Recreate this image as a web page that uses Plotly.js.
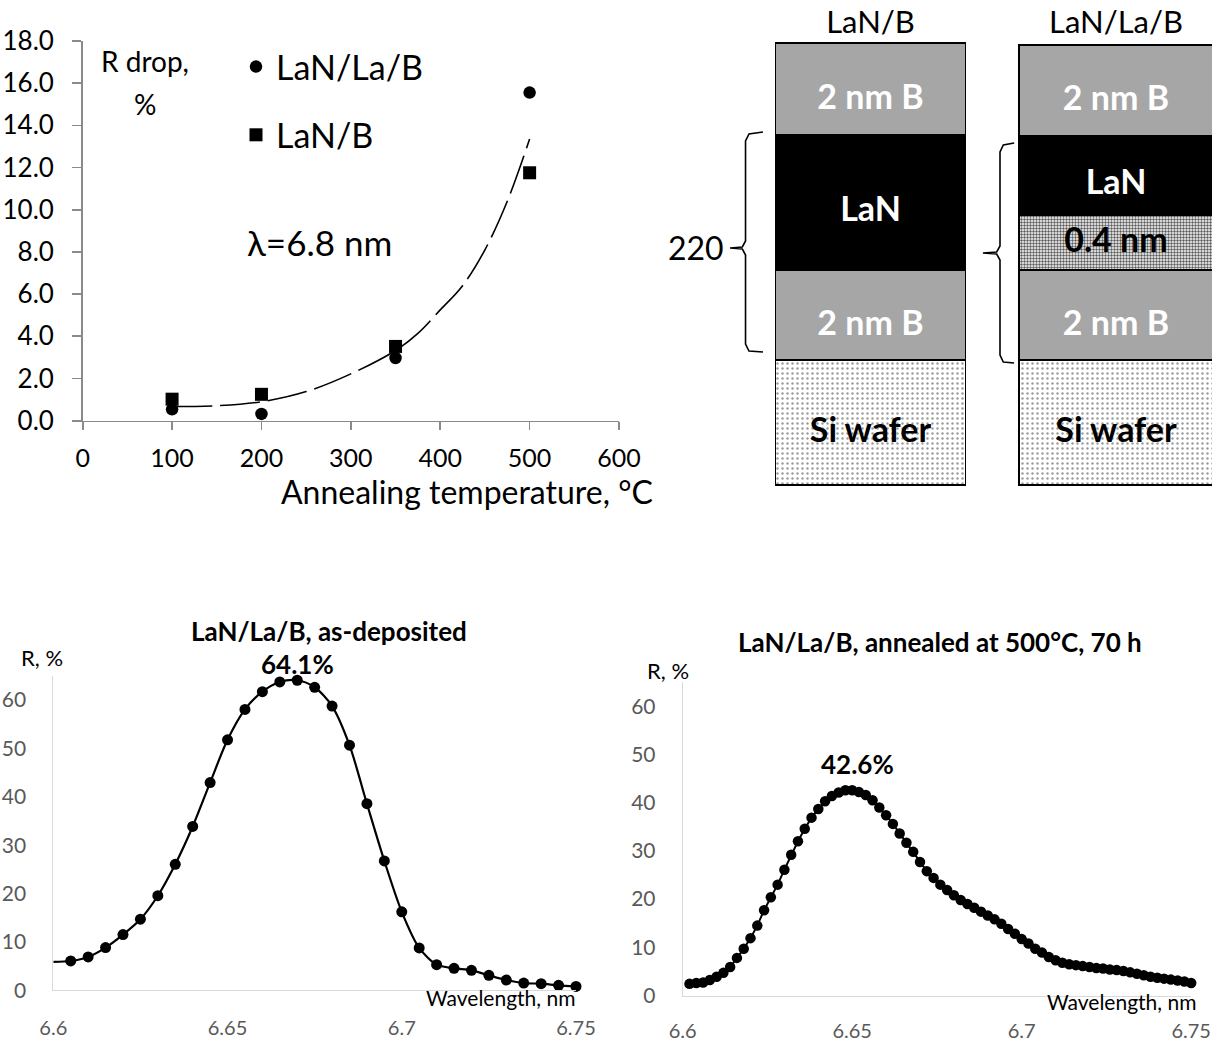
<!DOCTYPE html>
<html><head><meta charset="utf-8">
<script src="https://cdn.plot.ly/plotly-3.0.1.min.js"></script>
<style>html,body{margin:0;padding:0;background:#fff}#chart{width:1212px;height:1043px}</style>
</head><body><div id="chart"></div>
<script>
// ---------- Top-left: R drop vs annealing temperature ----------
const annealTemp = [100, 200, 350, 500];
const dropLaNLaB = [0.54, 0.32, 2.97, 15.55];
const dropLaNB   = [1.02, 1.25, 3.52, 11.75];
const trendTemp  = [100, 150, 200, 250, 300, 350, 375, 400, 425, 450, 475, 500];
const trendDrop  = [0.67, 0.71, 0.90, 1.38, 2.22, 3.33, 4.14, 5.25, 6.40, 8.10, 10.40, 13.35];

// ---------- Top-right: layer stacks (display heights) ----------
const stackNames   = ['LaN/B', 'LaN/La/B'];
const layerSi      = [125, 125];
const layerBbottom = [90, 90];
const layerLa      = [null, 55];
const layerLaN     = [135, 79];
const layerBtop    = [92, 91];
const labelSi  = ['Si wafer', 'Si wafer'];
const labelB   = ['2 nm B', '2 nm B'];
const labelLa  = ['', '0.4 nm'];
const labelLaN = ['LaN', 'LaN'];
const periodLabel = '220';
const bracketLeftX  = [-0.438, -0.495, -0.509, -0.509, -0.522, -0.572, -0.522, -0.509, -0.509, -0.495, -0.438];
const bracketLeftY  = [353, 351, 344, 244, 238, 237, 236, 230, 141, 134, 133];
const bracketRightX = [0.585, 0.541, 0.5275, 0.5275, 0.514, 0.458, 0.514, 0.5275, 0.5275, 0.541, 0.585];
const bracketRightY = [342, 340, 333, 239, 233, 232, 231, 225, 130, 123, 122];

// ---------- Bottom-left: as-deposited spectrum ----------
const asDepLeadWl = [6.600];
const asDepLeadR  = [5.9];
const asDepWl = [6.605, 6.610, 6.615, 6.620, 6.625, 6.630, 6.635, 6.640, 6.645, 6.650,
                 6.655, 6.660, 6.665, 6.670, 6.675, 6.680, 6.685, 6.690, 6.695, 6.700,
                 6.705, 6.710, 6.715, 6.720, 6.725, 6.730, 6.735, 6.740, 6.745, 6.750];
const asDepR  = [6.08, 6.91, 8.85, 11.54, 14.72, 19.56, 26.06, 33.87, 42.93, 51.77,
                 58.06, 61.73, 63.73, 64.08, 62.63, 58.75, 50.67, 38.57, 26.75, 16.24,
                 8.78, 5.32, 4.56, 4.15, 3.11, 2.14, 1.52, 1.38, 1.04, 0.83];

// ---------- Bottom-right: annealed spectrum ----------
const annWl = [6.602, 6.604, 6.606, 6.608, 6.610, 6.612, 6.614, 6.616, 6.618, 6.620,
               6.622, 6.624, 6.626, 6.628, 6.630, 6.632, 6.634, 6.636, 6.638, 6.640,
               6.642, 6.644, 6.646, 6.648, 6.650, 6.652, 6.654, 6.656, 6.658, 6.660,
               6.662, 6.664, 6.666, 6.668, 6.670, 6.672, 6.674, 6.676, 6.678, 6.680,
               6.682, 6.684, 6.686, 6.688, 6.690, 6.692, 6.694, 6.696, 6.698, 6.700,
               6.702, 6.704, 6.706, 6.708, 6.710, 6.712, 6.714, 6.716, 6.718, 6.720,
               6.722, 6.724, 6.726, 6.728, 6.730, 6.732, 6.734, 6.736, 6.738, 6.740,
               6.742, 6.744, 6.746, 6.748, 6.750];
const annR  = [2.42, 2.6, 2.7, 3.2, 3.9, 4.7, 5.9, 7.8, 9.7, 11.9,
               14.5, 17.7, 20.4, 23.0, 26.1, 29.2, 32.0, 34.6, 36.9, 38.7,
               40.3, 41.4, 42.1, 42.6, 42.6, 42.2, 41.6, 40.5, 39.0, 37.4,
               35.6, 33.6, 31.7, 29.8, 27.7, 25.8, 24.4, 23.0, 21.9, 20.8,
               19.8, 19.0, 18.2, 17.4, 16.6, 15.8, 14.9, 13.8, 12.8, 11.7,
               10.8, 9.7, 8.9, 8.0, 7.3, 6.8, 6.5, 6.3, 6.1, 5.9,
               5.7, 5.6, 5.4, 5.3, 5.1, 4.8, 4.5, 4.2, 3.9, 3.7,
               3.5, 3.3, 3.1, 2.9, 2.6];
const wlTicks = [6.6, 6.65, 6.7, 6.75];
const wlTickText = ['6.6', '6.65', '6.7', '6.75'];

// ---------- helpers ----------
const W = 1212, H = 1043;
const px = v => v / W;
const py = v => 1 - v / H;
const FONT = 'Lato, "Open Sans", "DejaVu Sans", sans-serif';
function peakIndex(arr) { let k = 0; arr.forEach((v, i) => { if (v > arr[k]) k = i; }); return k; }
const pkA = peakIndex(asDepR), pkB = peakIndex(annR);

const traces = [];
// top-left
traces.push({x: trendTemp, y: trendDrop, xaxis: 'x', yaxis: 'y', mode: 'lines', showlegend: false,
  line: {color: '#000', width: 1.6, dash: '40px,8px', shape: 'spline'}, hoverinfo: 'skip'});
traces.push({x: annealTemp, y: dropLaNLaB, xaxis: 'x', yaxis: 'y', mode: 'markers', name: 'LaN/La/B',
  legendgroup: 'a', marker: {symbol: 'circle', size: 12.5, color: '#000'}, cliponaxis: false});
traces.push({x: annealTemp, y: dropLaNB, xaxis: 'x', yaxis: 'y', mode: 'markers', name: 'LaN/B',
  legendgroup: 'b', marker: {symbol: 'square', size: 13, color: '#000'}, cliponaxis: false});

// top-right stacks
const stackX = [0, 1];
const barW = [0.772, 0.79];
const layers = [
  {h: layerSi,      lab: labelSi,  fill: '#ffffff', txt: '#000', dy: -11,
   pattern: {shape: '.', bgcolor: '#ffffff', fgcolor: '#9a9a9a', size: 5, solidity: 0.18}},
  {h: layerBbottom, lab: labelB,   fill: '#a6a6a6', txt: '#fff', dy: -11},
  {h: layerLa,      lab: labelLa,  fill: '#ffffff', txt: '#000', dy: -1,
   pattern: {shape: '.', bgcolor: '#ffffff', fgcolor: '#5a5a5a', size: 3, solidity: 0.5}},
  {h: layerLaN,     lab: labelLaN, fill: '#000000', txt: '#fff', dy: -10},
  {h: layerBtop,    lab: labelB,   fill: '#a6a6a6', txt: '#fff', dy: -11}
];
layers.forEach(L => {
  const m = {color: L.fill, line: {color: '#000', width: 1.5}};
  if (L.pattern) m.pattern = L.pattern;
  traces.push({type: 'bar', x: stackX, y: L.h, width: barW, xaxis: 'x4', yaxis: 'y4', marker: m,
    showlegend: false, hoverinfo: 'skip'});
});
// layer labels, centred on each layer from the stacked heights
const lblX = [], lblY = [], lblT = [], lblC = [];
stackX.forEach((sx, i) => {
  let base = 0;
  layers.forEach(L => {
    const h = L.h[i];
    if (h == null) return;
    if (L.lab[i]) { lblX.push(sx); lblY.push(base + h / 2 + L.dy); lblT.push('<b>' + L.lab[i] + '</b>'); lblC.push(L.txt); }
    base += h;
  });
});
traces.push({x: lblX, y: lblY, text: lblT, mode: 'text', xaxis: 'x4', yaxis: 'y4', textposition: 'middle center',
  textfont: {family: FONT, size: 34, color: lblC}, showlegend: false, hoverinfo: 'skip', cliponaxis: false});
traces.push({x: bracketLeftX, y: bracketLeftY, xaxis: 'x4', yaxis: 'y4', mode: 'lines',
  line: {color: '#000', width: 1.6}, showlegend: false, hoverinfo: 'skip', cliponaxis: false});
traces.push({x: bracketRightX, y: bracketRightY, xaxis: 'x4', yaxis: 'y4', mode: 'lines',
  line: {color: '#000', width: 1.6}, showlegend: false, hoverinfo: 'skip', cliponaxis: false});

// bottom-left spectrum
traces.push({x: asDepLeadWl.concat(asDepWl), y: asDepLeadR.concat(asDepR), xaxis: 'x2', yaxis: 'y2',
  mode: 'lines', line: {color: '#000', width: 2.2, shape: 'spline', smoothing: 0.8},
  showlegend: false, hoverinfo: 'skip', cliponaxis: false});
traces.push({x: asDepWl, y: asDepR, xaxis: 'x2', yaxis: 'y2', mode: 'markers',
  marker: {color: '#000', size: 11}, showlegend: false, cliponaxis: false});

// bottom-right spectrum
traces.push({x: annWl, y: annR, xaxis: 'x3', yaxis: 'y3', mode: 'lines+markers',
  line: {color: '#000', width: 2}, marker: {color: '#000', size: 10.5},
  showlegend: false, cliponaxis: false});

const gridOff = {showgrid: false, zeroline: false, fixedrange: true};
const layout = {
  width: W, height: H, margin: {l: 0, r: 0, t: 0, b: 0},
  paper_bgcolor: '#fff', plot_bgcolor: 'rgba(0,0,0,0)',
  font: {family: FONT, color: '#000'},
  barmode: 'stack', bargap: 0,
  showlegend: true,
  legend: {x: px(236), y: py(38), xanchor: 'left', yanchor: 'top', font: {size: 34, color: '#000'},
    traceorder: 'grouped', tracegroupgap: 21, bgcolor: 'rgba(0,0,0,0)', itemclick: false},
  xaxis: Object.assign({domain: [px(82.7), px(619)], range: [0, 600], tick0: 0, dtick: 100, anchor: 'y',
    showline: true, linecolor: '#8a8a8a', linewidth: 1.6, ticks: 'outside', ticklen: 8, tickwidth: 1.6,
    tickcolor: '#8a8a8a', tickfont: {size: 25, color: '#000'}, ticklabelstandoff: 7}, gridOff),
  yaxis: Object.assign({domain: [py(420.7), py(40.9)], range: [0, 18], tick0: 0, dtick: 2, tickformat: '.1f',
    anchor: 'x', showline: true, linecolor: '#8a8a8a', linewidth: 1.6, ticks: 'outside', ticklen: 9,
    tickwidth: 1.6, tickcolor: '#8a8a8a', tickfont: {size: 26, color: '#000'}, ticklabelstandoff: 13}, gridOff),
  xaxis2: Object.assign({domain: [px(53.3), px(576)], range: [6.6, 6.75], tickvals: wlTicks, ticktext: wlTickText,
    anchor: 'y2', showline: true, linecolor: '#d9d9d9', linewidth: 1, ticks: '',
    tickfont: {size: 20, color: '#595959'}, ticklabelstandoff: 20}, gridOff),
  yaxis2: Object.assign({domain: [py(990.4), py(675.8)], range: [0, 65], tick0: 0, dtick: 10, anchor: 'x2',
    showline: true, linecolor: '#d9d9d9', linewidth: 1, ticks: '',
    tickfont: {size: 21, color: '#595959'}, ticklabelstandoff: 22}, gridOff),
  xaxis3: Object.assign({domain: [px(682.7), px(1191.2)], range: [6.6, 6.75], tickvals: wlTicks, ticktext: wlTickText,
    anchor: 'y3', showline: true, linecolor: '#d9d9d9', linewidth: 1, ticks: '',
    tickfont: {size: 20, color: '#595959'}, ticklabelstandoff: 17}, gridOff),
  yaxis3: Object.assign({domain: [py(995.5), py(682.2)], range: [0, 65], tick0: 0, dtick: 10, anchor: 'x3',
    showline: true, linecolor: '#d9d9d9', linewidth: 1, ticks: '',
    tickfont: {size: 21, color: '#595959'}, ticklabelstandoff: 22}, gridOff),
  xaxis4: Object.assign({domain: [px(660), 1], range: [-0.8574, 1.391], tickvals: stackX, ticktext: stackNames,
    side: 'top', anchor: 'y4', showline: false, ticks: '', tickfont: {size: 31, color: '#000'},
    ticklabelstandoff: 1}, gridOff),
  yaxis4: Object.assign({domain: [py(487), py(41)], range: [-2, 444], anchor: 'x4', visible: false}, gridOff),
  annotations: [
    {xref: 'paper', yref: 'paper', x: px(145), y: py(61), text: 'R drop,', showarrow: false,
      xanchor: 'center', yanchor: 'middle', font: {size: 28}},
    {xref: 'paper', yref: 'paper', x: px(145), y: py(104), text: '%', showarrow: false,
      xanchor: 'center', yanchor: 'middle', font: {size: 28}},
    {xref: 'paper', yref: 'paper', x: px(245), y: py(242), text: 'λ=6.8 nm', showarrow: false,
      xanchor: 'left', yanchor: 'middle', font: {size: 35}},
    {xref: 'paper', yref: 'paper', x: px(655), y: py(491), text: 'Annealing temperature, °C', showarrow: false,
      xanchor: 'right', yanchor: 'middle', font: {size: 32}},
    {xref: 'paper', yref: 'paper', x: px(726), y: py(247), text: periodLabel, showarrow: false,
      xanchor: 'right', yanchor: 'middle', font: {size: 32}},
    {xref: 'paper', yref: 'paper', x: px(329), y: py(631), text: '<b>LaN/La/B, as-deposited</b>', showarrow: false,
      xanchor: 'center', yanchor: 'middle', font: {size: 26}},
    {xref: 'paper', yref: 'paper', x: px(19), y: py(657), text: 'R, %', showarrow: false,
      xanchor: 'left', yanchor: 'middle', font: {size: 22}},
    {xref: 'x2', yref: 'y2', x: asDepWl[pkA], y: asDepR[pkA], text: '<b>' + asDepR[pkA].toFixed(1) + '%</b>',
      showarrow: false, xanchor: 'center', yanchor: 'bottom', yshift: -2, font: {size: 26}},
    {xref: 'paper', yref: 'paper', x: px(577), y: py(997), text: 'Wavelength, nm', showarrow: false,
      xanchor: 'right', yanchor: 'middle', font: {size: 21}},
    {xref: 'paper', yref: 'paper', x: px(940), y: py(642), text: '<b>LaN/La/B, annealed at 500°C, 70 h</b>', showarrow: false,
      xanchor: 'center', yanchor: 'middle', font: {size: 26}},
    {xref: 'paper', yref: 'paper', x: px(645), y: py(670), text: 'R, %', showarrow: false,
      xanchor: 'left', yanchor: 'middle', font: {size: 22}},
    {xref: 'x3', yref: 'y3', x: annWl[pkB], y: annR[pkB], text: '<b>' + annR[pkB].toFixed(1) + '%</b>',
      showarrow: false, xanchor: 'center', yanchor: 'bottom', xshift: 12, yshift: 8, font: {size: 26}},
    {xref: 'paper', yref: 'paper', x: px(1198), y: py(1001), text: 'Wavelength, nm', showarrow: false,
      xanchor: 'right', yanchor: 'middle', font: {size: 21}}
  ]
};
Plotly.newPlot('chart', traces, layout, {staticPlot: true, displayModeBar: false});
</script>
</body></html>
